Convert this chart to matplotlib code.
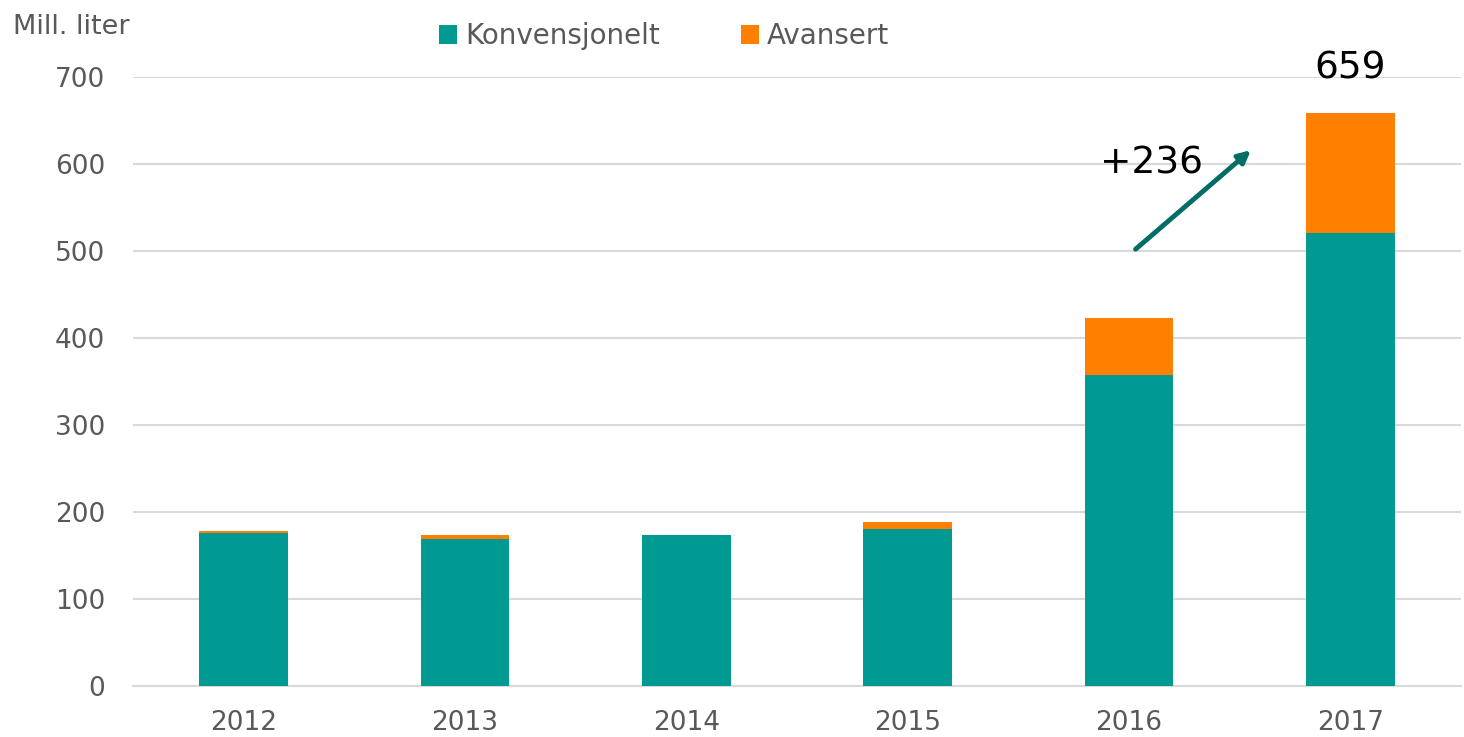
import matplotlib.pyplot as plt
import numpy as np

years = ["2012", "2013", "2014", "2015", "2016", "2017"]
konvensjonelt = [176, 169, 174, 180, 357, 521]
avansert = [2, 5, 0, 8, 66, 138]
total_2017_label = "659"
increase_label = "+236"

teal = "#009A93"
orange = "#FF7F00"
grey = "#595959"

plt.rcParams["font.family"] = "DejaVu Sans"

fig = plt.figure(figsize=(14.64, 7.37), dpi=100)
ax = fig.add_axes([0.0908, 0.0692, 0.9072, 0.8263])

x = np.arange(len(years))
ax.bar(x, konvensjonelt, width=0.4, color=teal, label="Konvensjonelt", zorder=3)
ax.bar(x, avansert, width=0.4, bottom=konvensjonelt, color=orange, label="Avansert", zorder=3)

ax.set_xlim(-0.5, len(years) - 0.5)
ax.set_ylim(0, 700)
ax.set_yticks(range(0, 701, 100))
ax.set_xticks(x)
ax.set_xticklabels(years)
ax.grid(axis="y", color="#D9D9D9", linewidth=1.5, zorder=0)
for s in ["top", "right", "left"]:
    ax.spines[s].set_visible(False)
ax.spines["bottom"].set_color("#D9D9D9")
ax.spines["bottom"].set_linewidth(1.5)
ax.tick_params(axis="both", length=0, labelsize=19, labelcolor=grey)
ax.tick_params(axis="y", pad=20)
ax.tick_params(axis="x", pad=17)

fig.text(0.009, 0.963, "Mill. liter", fontsize=19.5, color=grey, va="center", ha="left")

ax.legend(loc="center", bbox_to_anchor=(0.40, 1.067), ncol=2, frameon=False,
          fontsize=20, labelcolor=grey, handlelength=0.65, handleheight=0.65,
          handletextpad=0.3, columnspacing=2.9)

totals = np.array(konvensjonelt) + np.array(avansert)
ax.text(x[-1], totals[-1] + 30, total_2017_label, fontsize=27, ha="center", va="bottom", color="black")
ax.text(x[-2] - 0.13, totals[-2] + 178, increase_label, fontsize=27, ha="left", va="center", color="black")
ax.annotate("", xy=(x[-2] + 0.56, 618), xytext=(x[-2] + 0.02, 500),
            arrowprops=dict(arrowstyle="-|>", color="#006E64", lw=3.5, mutation_scale=18))

fig.savefig("out.png", dpi=100)
